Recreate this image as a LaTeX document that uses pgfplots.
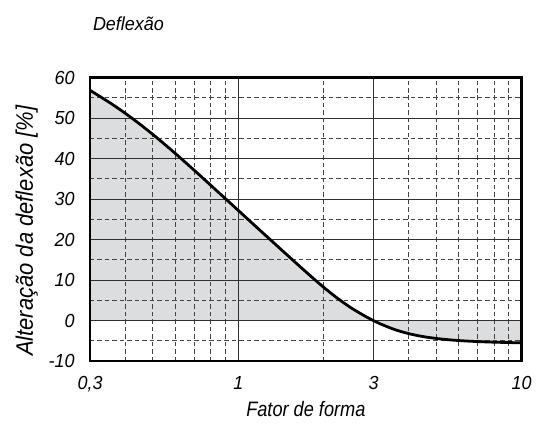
\documentclass[border=0pt]{standalone}
\usepackage{fontspec}
\setmainfont{Liberation Sans}[FakeStretch=0.95]
\newfontfamily\fontxl{Liberation Sans}[FakeStretch=0.87]
\newfontfamily\fontyl{Liberation Sans}[FakeStretch=0.92]
\usepackage{pgfplots}
\pgfplotsset{compat=1.18}
\definecolor{fillgray}{HTML}{DCDDDF}
\definecolor{gridmaj}{HTML}{303030}
\definecolor{gridmin}{HTML}{444444}
\pgfplotstableread{
x y
0.3 56.87
0.3548 53.66
0.3981 51.26
0.4467 48.66
0.5012 45.89
0.5623 42.96
0.6310 39.91
0.7079 36.79
0.7943 33.61
0.8913 30.41
1.0 27.21
1.122 24.0
1.259 20.81
1.413 17.62
1.585 14.46
1.778 11.34
1.995 8.31
2.239 5.51
2.512 3.06
2.818 0.99
3.0 0
3.162 -0.77
3.548 -2.17
3.981 -3.2
4.467 -3.93
5.012 -4.43
5.623 -4.78
6.310 -5.03
7.079 -5.2
7.943 -5.33
8.913 -5.42
10.0 -5.5
}\curvedata
\begin{document}
\fontsize{19}{22}\selectfont
\begin{tikzpicture}
\begin{axis}[
 set layers,
 at={(0pt,0pt)}, anchor=south west,
 scale only axis, width=434pt, height=285pt,
 xmode=log, xmin=0.3, xmax=10, ymin=-10, ymax=60,
 xtick={0.3,1,3,10}, xticklabels={{0,3},1,3,10},
 minor xtick={0.4,0.5,0.6,0.7,0.8,0.9,2,4,5,6,7,8,9},
 ytick={-10,0,10,20,30,40,50,60}, minor ytick={-5,5,15,25,35,45,55},
 yticklabels={-10,0,10,20,30,40,50,60},
 grid=both,
 major grid style={line width=1.1pt, color=gridmaj},
 minor grid style={line width=0.9pt, color=gridmin, dash pattern=on 4.5pt off 3pt},
 major tick length=0pt, minor tick length=0pt,
 axis line style={line width=2.8pt, black},
 /pgf/number format/assume math mode=true,
 tick label style={font=\fontsize{19}{22}\selectfont\itshape},
 xticklabel style={yshift=-9pt},
 yticklabel style={xshift=-9pt},
 clip=true,
]
\addplot[fill=fillgray, draw=none, on layer=axis background, smooth] table[x=x,y=y] {\curvedata} \closedcycle;
\addplot[line width=2.8pt, black, smooth] table[x=x,y=y] {\curvedata};
\end{axis}
\node[anchor=base west, font=\fontsize{19}{22}\selectfont\itshape] at (-3.5pt,332pt) {Deflexão};
\node[anchor=base, font=\fontxl\fontsize{21}{24}\selectfont\itshape] at (217pt,-56pt) {Fator de forma};
\node[anchor=base, rotate=90, font=\fontyl\fontsize{24}{27}\selectfont\itshape] at (-57.5pt,131pt) {Alteração da deflexão [\%]};
\path (-90.5pt,-63pt) rectangle (447.5pt,363pt);
\end{tikzpicture}
\end{document}
